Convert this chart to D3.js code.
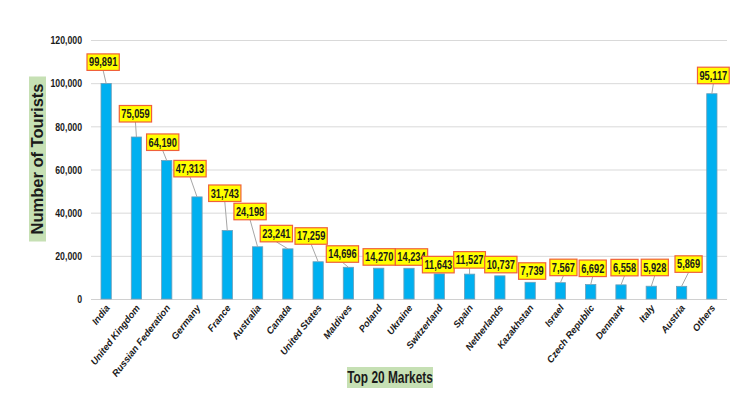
<!DOCTYPE html>
<html><head><meta charset="utf-8">
<script src="https://cdn.jsdelivr.net/npm/d3@7"></script>
<style>
html,body{margin:0;padding:0;background:#fff;}
svg{display:block;}
</style></head>
<body><svg id="chart" width="740" height="394"></svg>
<script>
const categories = ["India","United Kingdom","Russian Federation","Germany","France","Australia","Canada","United States","Maldives","Poland","Ukraine","Switzerland","Spain","Netherlands","Kazakhstan","Israel","Czech Republic","Denmark","Italy","Austria","Others"];
const tourists = [99891,75059,64190,47313,31743,24198,23241,17259,14696,14270,14234,11643,11527,10737,7739,7567,6692,6558,5928,5869,95117];
const yTicks = [0,20000,40000,60000,80000,100000,120000];
// label placement offsets (px) relative to bar top centre: [dx, dy]
const labelOffsets = [[-3,-13],[-1,-15],[-4,-10],[-7,-20],[-2.5,-29],[-7.5,-27],[-11.5,-7],[-7,-17.5],[-6,-5],[0.5,-3],[2.5,-3],[-1,-1],[0,-6],[1,-3],[2,-3],[3,-7],[2,-8],[3.5,-9],[3.5,-10.5],[7,-14],[1.5,-10]];

const svg = d3.select("#chart");
const FONT = "'Liberation Sans',Arial,sans-serif";
const m = {left:91, right:13};
const W = 740;
const x = d3.scaleBand().domain(categories).range([m.left, W - m.right]).paddingInner(0.66).paddingOuter(0.33);
const y = d3.scaleLinear().domain([0,120000]).range([299, 40]);

function condense(sel, f){
  sel.each(function(){
    const n = this; const L = n.getComputedTextLength();
    d3.select(n).attr("textLength", L*f).attr("lengthAdjust","spacingAndGlyphs");
  });
}

// gridlines
svg.append("g").selectAll("line").data(yTicks.filter(d=>d>0)).join("line")
  .attr("x1", m.left).attr("x2", W - m.right)
  .attr("y1", d=>y(d)+0.5).attr("y2", d=>y(d)+0.5)
  .attr("stroke", "#d9d9d9").attr("stroke-width", 1);

// y axis labels
const yAxis = d3.axisLeft(y).tickValues(yTicks).tickFormat(d3.format(",")).tickSize(0).tickPadding(9);
const yg = svg.append("g").attr("transform", `translate(${m.left},0)`).call(yAxis);
yg.select(".domain").remove();
yg.selectAll("text").attr("font-family", FONT).attr("font-weight","bold").attr("font-size", 11.5).attr("fill","#1a1a1a").call(condense, 0.76);

// x axis
const xAxis = d3.axisBottom(x).tickSize(0).tickPadding(0);
const xg = svg.append("g").attr("transform", `translate(0,${y(0)})`).call(xAxis);
xg.select(".domain").attr("stroke","#d0d0d0").attr("d", `M${m.left},0.5H${W - m.right}`);
xg.selectAll("text")
  .attr("font-family", FONT).attr("font-weight","bold").attr("font-style","italic")
  .attr("font-size", 9.5).attr("fill","#1a1a1a")
  .attr("text-anchor","end").attr("dy", null).attr("y", 0)
  .attr("transform","translate(4,9) rotate(-52)");

// bars
svg.append("g").selectAll("rect").data(tourists).join("rect")
  .attr("x", (d,i)=>x(categories[i]))
  .attr("y", d=>y(d))
  .attr("width", x.bandwidth())
  .attr("height", d=>y(0)-y(d))
  .attr("fill","#00b0f0").attr("stroke","#6f9fb8").attr("stroke-width",0.8);

// data labels
const fmt = d3.format(",");
const SX = 0.74;
const lab = svg.append("g").selectAll("g").data(tourists).join("g");
lab.each(function(d,i){
  const g = d3.select(this);
  const bx = x(categories[i]) + x.bandwidth()/2, by = y(d);
  const cx = bx + labelOffsets[i][0], bottom = by + labelOffsets[i][1];
  const h = 16.5;
  if (by - bottom > 3) {
    g.append("line").attr("x1", bx).attr("y1", by).attr("x2", cx).attr("y2", bottom)
      .attr("stroke","#a6a6a6").attr("stroke-width",1);
  }
  const t = g.append("text").text(fmt(d))
    .attr("x", 0).attr("y", 0)
    .attr("transform", `translate(${cx},${bottom - h/2 + 4.3}) scale(${SX},1)`)
    .attr("text-anchor","middle").attr("font-family", FONT).attr("font-weight","bold")
    .attr("font-size", 12.5).attr("fill","#1a1a1a");
  const L = t.node().getComputedTextLength()*SX;
  const w = L + 4;
  g.insert("rect","text").attr("x", cx - w/2).attr("y", bottom - h).attr("width", w).attr("height", h)
    .attr("fill","#ffff00").attr("stroke","#f0603a").attr("stroke-width",1.2);
});

// axis titles
function titleBox(txt, cx, cy, rot, size, f, bw, bh){
  const g = svg.append("g").attr("transform", `translate(${cx},${cy}) rotate(${rot})`);
  const t = g.append("text").text(txt).attr("text-anchor","middle").attr("dy","0.36em")
    .attr("font-family", FONT).attr("font-weight","bold").attr("font-size", size).attr("fill","#1a1a1a");
  if (f !== 1) t.call(condense, f);
  g.insert("rect","text").attr("x", -bw/2).attr("y", -bh/2).attr("width", bw).attr("height", bh)
    .attr("fill","#c6e0b4");
}
titleBox("Number of Tourists", 37.5, 159, -90, 16.5, 1, 165, 17);
titleBox("Top 20 Markets", 390, 377.5, 0, 16.5, 0.72, 86, 21);
</script></body></html>
